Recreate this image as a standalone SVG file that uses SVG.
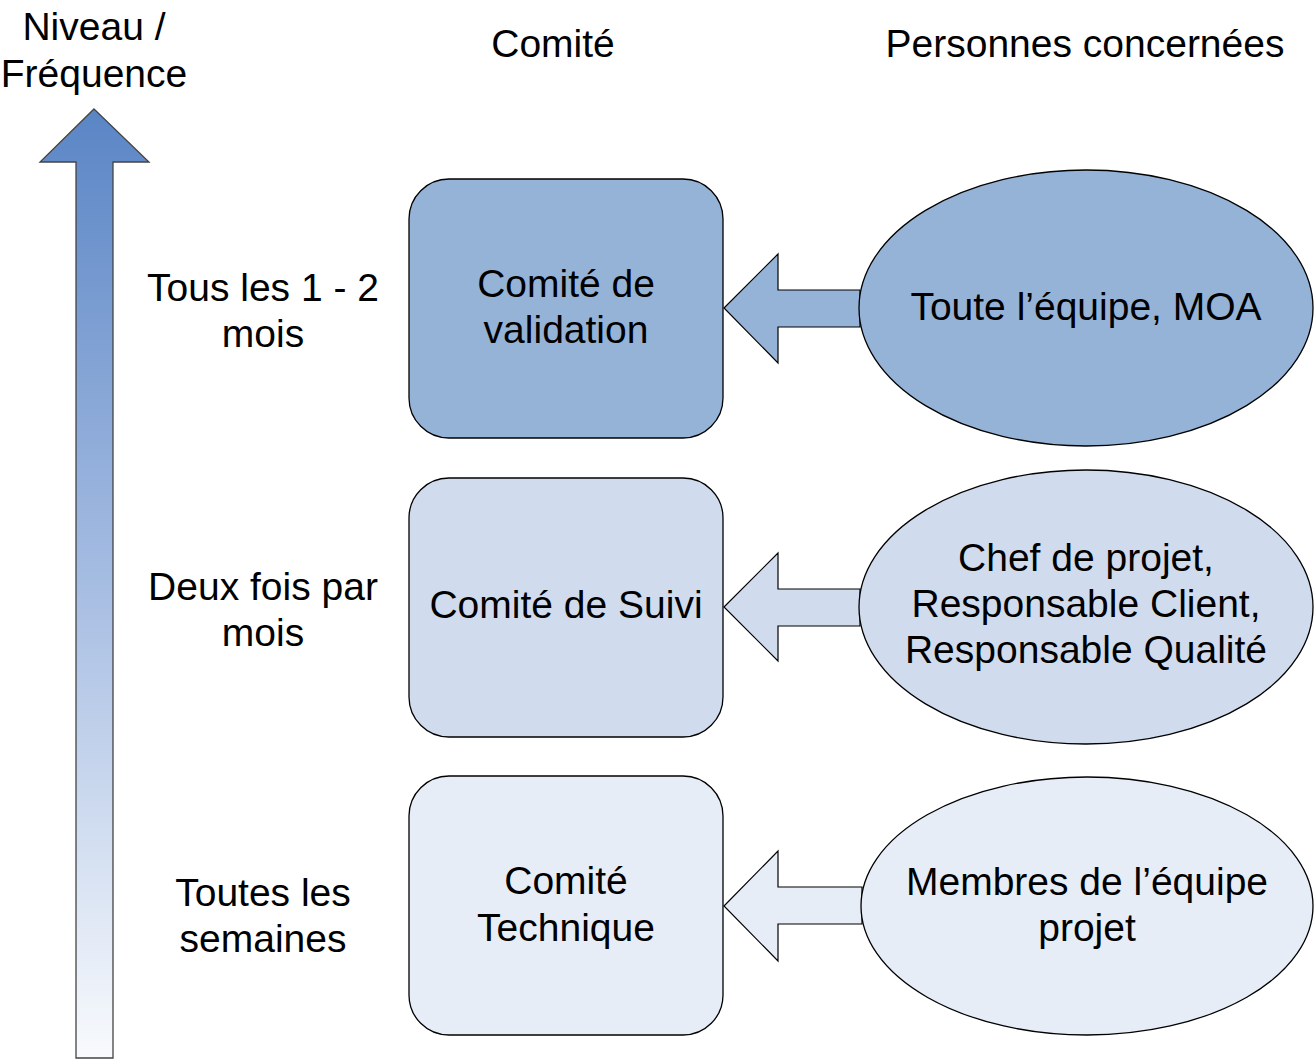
<svg xmlns="http://www.w3.org/2000/svg" width="1315" height="1060" viewBox="0 0 1315 1060">
<defs>
<linearGradient id="g" x1="0" y1="109" x2="0" y2="1058" gradientUnits="userSpaceOnUse">
<stop offset="0" stop-color="#5A85C5"/>
<stop offset="0.5" stop-color="#A6BDE2"/>
<stop offset="1" stop-color="#F8FAFD"/>
</linearGradient>
</defs>
<style>
text{font-family:"Liberation Sans",Arial,sans-serif;font-size:39px;fill:#000;text-anchor:middle}
.box{stroke:#000;stroke-width:1.3}
.l1{fill:#95B3D7}.l2{fill:#D0DCEE}.l3{fill:#E6EDF7}
.arr{stroke:#000;stroke-width:1.2}
</style>
<rect width="1315" height="1060" fill="#fff"/>
<g id="headers">
<text x="94" y="40">Niveau /</text>
<text x="94" y="87">Fréquence</text>
<text x="553" y="57">Comité</text>
<text x="1085" y="57">Personnes concernées</text>
</g>
<g id="axis">
<polygon points="94,109 149,162 113,162 113,1058 76,1058 76,162 40,162" fill="url(#g)" stroke="#444" stroke-width="1.3"/>
</g>
<g id="freq">
<text x="263" y="301">Tous les 1 - 2</text>
<text x="263" y="347">mois</text>
<text x="263" y="600">Deux fois par</text>
<text x="263" y="646">mois</text>
<text x="263" y="906">Toutes les</text>
<text x="263" y="952">semaines</text>
</g>
<g id="connectors">
<polygon class="arr l1" points="724,308 778,254 778,290 860,290 860,327 778,327 778,363"/>
<polygon class="arr l2" points="724,607 778,553 778,589 860,589 860,626 778,626 778,661"/>
<polygon class="arr l3" points="724,906 778,851 778,887 862,887 862,924 778,924 778,961"/>
</g>
<g id="comite-validation">
<rect class="box l1" x="409" y="179" width="314" height="259" rx="40"/>
<text x="566" y="297">Comité de</text>
<text x="566" y="343">validation</text>
</g>
<g id="comite-suivi">
<rect class="box l2" x="409" y="478" width="314" height="259" rx="40"/>
<text x="566" y="618">Comité de Suivi</text>
</g>
<g id="comite-technique">
<rect class="box l3" x="409" y="776" width="314" height="259" rx="40"/>
<text x="566" y="894">Comité</text>
<text x="566" y="941">Technique</text>
</g>
<g id="personnes-1">
<ellipse class="box l1" cx="1086" cy="308" rx="227" ry="138"/>
<text x="1086" y="320">Toute l’équipe, MOA</text>
</g>
<g id="personnes-2">
<ellipse class="box l2" cx="1086" cy="607" rx="227" ry="137"/>
<text x="1086" y="571">Chef de projet,</text>
<text x="1086" y="617">Responsable Client,</text>
<text x="1086" y="663">Responsable Qualité</text>
</g>
<g id="personnes-3">
<ellipse class="box l3" cx="1087" cy="906" rx="226" ry="129"/>
<text x="1087" y="895">Membres de l’équipe</text>
<text x="1087" y="941">projet</text>
</g>
</svg>
